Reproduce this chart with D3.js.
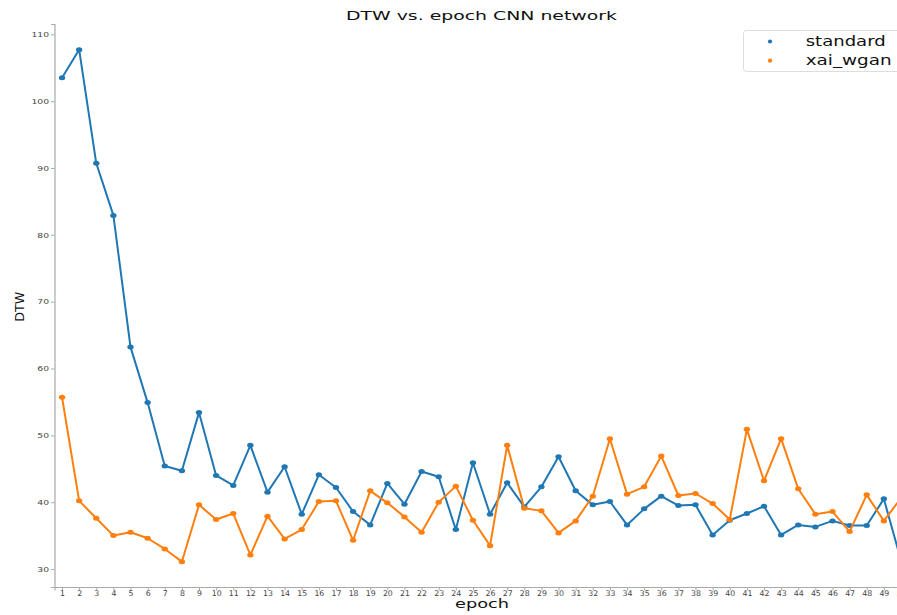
<!DOCTYPE html>
<html>
<head>
<meta charset="utf-8">
<script src="https://cdn.jsdelivr.net/npm/d3@7"></script>
<style>
  html, body { margin: 0; padding: 0; background: #fff; }
  svg { display: block; font-family: "DejaVu Sans", sans-serif; }
</style>
</head>
<body>
<svg id="chart" width="897" height="615"></svg>
<script>
// Epoch numbers (x categories)
const epochs = [1,2,3,4,5,6,7,8,9,10,11,12,13,14,15,16,17,18,19,20,
  21,22,23,24,25,26,27,28,29,30,31,32,33,34,35,36,37,38,39,40,
  41,42,43,44,45,46,47,48,49,50];

// DTW per epoch, standard training
const standard = [103.5,107.7,90.7,82.9,63.2,54.9,45.4,44.7,53.4,44.0,
  42.5,48.5,41.5,45.3,38.2,44.1,42.2,38.6,36.6,42.8,
  39.7,44.6,43.8,35.9,45.9,38.2,42.9,39.3,42.3,46.8,
  41.7,39.6,40.1,36.6,39.0,40.9,39.5,39.6,35.1,37.3,
  38.3,39.4,35.1,36.6,36.3,37.2,36.5,36.5,40.5,31.3];

// DTW per epoch, xai_wgan training
const xaiWgan = [55.7,40.2,37.6,35.0,35.5,34.6,33.0,31.1,39.6,37.4,
  38.3,32.1,37.9,34.5,35.9,40.1,40.2,34.3,41.7,39.9,
  37.8,35.5,40.0,42.4,37.3,33.5,48.5,39.1,38.7,35.4,
  37.2,40.9,49.5,41.2,42.3,46.9,41.0,41.3,39.8,37.4,
  50.9,43.2,49.5,42.0,38.2,38.6,35.6,41.1,37.2,40.6];

const seriesNames = ["standard", "xai_wgan"];
const seriesColors = ["#1f77b4", "#ff7f0e"];
const yTickValues = [30,40,50,60,70,80,90,100,110];

const svg = d3.select("#chart");

const x = d3.scaleLinear().domain([0.56, 50.44]).range([54.5, 908.5]);
const y = d3.scaleLinear().domain([27.31, 111.54]).range([587, 24]);

// Axes (left and bottom spines only)
const yAxis = d3.axisLeft(y).tickValues(yTickValues).tickSize(3.5).tickPadding(2)
  .tickFormat(d3.format("d"));
const gy = svg.append("g").attr("transform", "translate(54.5,0)").call(yAxis);
gy.select(".domain").attr("stroke", "#aaa").attr("stroke-width", 1.2);
gy.selectAll(".tick line").attr("stroke", "#aaa");
gy.selectAll(".tick text")
  .attr("font-size", 7.2)
  .attr("fill", "#444")
  .attr("x", -5.5 / 1.28)
  .attr("transform", "scale(1.28,1)");

const xAxis = d3.axisBottom(x).tickValues(epochs).tickSize(3.5).tickPadding(-0.5)
  .tickFormat(d3.format("d"));
const gx = svg.append("g").attr("transform", "translate(0,587)").call(xAxis);
gx.select(".domain").attr("stroke", "#aaa").attr("stroke-width", 1.2);
gx.selectAll(".tick line").attr("stroke", "#aaa");
gx.selectAll(".tick text").attr("font-size", 7.8).attr("fill", "#444");
gy.attr("font-family", null);
gx.attr("font-family", null);

// Lines with point markers
const line = d3.line().x((d, i) => x(epochs[i])).y(d => y(d));
[standard, xaiWgan].forEach((vals, k) => {
  const g = svg.append("g");
  g.append("path").datum(vals)
    .attr("d", line)
    .attr("fill", "none")
    .attr("stroke", seriesColors[k])
    .attr("stroke-width", 2)
    .attr("stroke-linejoin", "round");
  g.selectAll("ellipse").data(vals).join("ellipse")
    .attr("cx", (d, i) => x(epochs[i]))
    .attr("cy", d => y(d))
    .attr("rx", 3.2)
    .attr("ry", 2.5)
    .attr("fill", seriesColors[k]);
});

// Title
svg.append("text")
  .attr("x", 481.5).attr("y", 20)
  .attr("text-anchor", "middle")
  .attr("font-size", 12.3)
  .attr("fill", "#111")
  .attr("textLength", 271)
  .attr("lengthAdjust", "spacingAndGlyphs")
  .text("DTW vs. epoch CNN network");

// Axis labels
svg.append("text")
  .attr("x", 482).attr("y", 608)
  .attr("text-anchor", "middle")
  .attr("font-size", 12.5)
  .attr("fill", "#111")
  .attr("textLength", 54)
  .attr("lengthAdjust", "spacingAndGlyphs")
  .text("epoch");

svg.append("text")
  .attr("transform", "translate(24,306.7) rotate(-90)")
  .attr("text-anchor", "middle")
  .attr("font-size", 12.5)
  .attr("fill", "#111")
  .attr("textLength", 30)
  .attr("lengthAdjust", "spacingAndGlyphs")
  .text("DTW");

// Legend
const legend = svg.append("g");
legend.append("rect")
  .attr("x", 743.5).attr("y", 30.5)
  .attr("width", 200).attr("height", 41)
  .attr("rx", 3)
  .attr("fill", "#fff").attr("fill-opacity", 0.8)
  .attr("stroke", "#ddd");
seriesNames.forEach((name, k) => {
  const cy = 41.5 + k * 19.2;
  legend.append("circle")
    .attr("cx", 770).attr("cy", cy).attr("r", 2.1)
    .attr("fill", seriesColors[k]);
  legend.append("text")
    .attr("x", 805.7).attr("y", cy + 4.6)
    .attr("font-size", 13.5)
    .attr("fill", "#111")
    .attr("textLength", k === 0 ? 80 : 86)
    .attr("lengthAdjust", "spacingAndGlyphs")
    .text(name);
});
</script>
</body>
</html>
